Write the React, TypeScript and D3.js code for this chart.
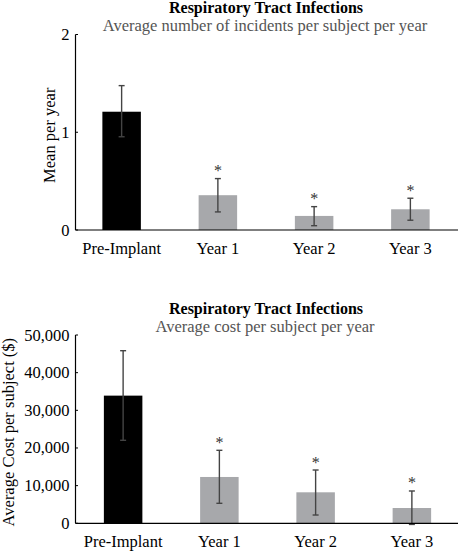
import React from "react";
import * as d3 from "d3";

const categories = ["Pre-Implant", "Year 1", "Year 2", "Year 3"];

const incidentMeans = [1.21, 0.356, 0.144, 0.212];
const incidentLow = [0.954, 0.185, 0.044, 0.1];
const incidentHigh = [1.477, 0.526, 0.239, 0.325];
const incidentTicks = [0, 1, 2];
const incidentStars = [false, true, true, true];

const costMeans = [33900, 12300, 8230, 4060];
const costLow = [22040, 5310, 2200, -300];
const costHigh = [45830, 19380, 14150, 8580];
const costTicks = [0, 10000, 20000, 30000, 40000, 50000];
const costStars = [false, true, true, true];

const FONT = "'Liberation Serif', 'Times New Roman', serif";

type ChartProps = {
  top: number;
  title: string;
  subtitle: string;
  yLabel: string;
  yLabelX: number;
  means: number[];
  low: number[];
  high: number[];
  ticks: number[];
  stars: boolean[];
  yMax: number;
  y0: number;
  y1: number;
  tickFmt: (v: number) => string;
  xOffset: number;
};

function Chart(p: ChartProps) {
  const axisX = 75.5;
  const x = d3
    .scaleBand<string>()
    .domain(categories)
    .range([73.5 + p.xOffset, 458.5 + p.xOffset])
    .paddingInner(0.6)
    .paddingOuter(0.3);
  const y = d3.scaleLinear().domain([0, p.yMax]).range([p.y0, p.y1]);
  const bw = x.bandwidth();
  const cx = (c: string) => (x(c) as number) + bw / 2;
  return (
    <g>
      <text x={266} y={p.top + 13} textAnchor="middle" fontFamily={FONT} fontWeight="bold" fontSize={16} fill="#000">
        {p.title}
      </text>
      <text x={265} y={p.top + 31} textAnchor="middle" fontFamily={FONT} fontSize={16.5} fill="#555">
        {p.subtitle}
      </text>
      {categories.map((c, i) => (
        <rect
          key={c}
          x={x(c)}
          y={y(p.means[i])}
          width={bw}
          height={y(0) - y(p.means[i])}
          fill={i === 0 ? "#000" : "#a7a8ab"}
        />
      ))}
      {categories.map((c, i) => (
        <g key={"e" + c} stroke="#444" strokeWidth={1.4}>
          <line x1={cx(c)} x2={cx(c)} y1={y(p.low[i])} y2={y(p.high[i])} />
          <line x1={cx(c) - 3} x2={cx(c) + 3} y1={y(p.high[i])} y2={y(p.high[i])} />
          <line x1={cx(c) - 3} x2={cx(c) + 3} y1={y(p.low[i])} y2={y(p.low[i])} />
        </g>
      ))}
      {categories.map((c, i) =>
        p.stars[i] ? (
          <text key={"s" + c} x={cx(c)} y={y(p.high[i]) - 2.5} textAnchor="middle" fontFamily={FONT} fontSize={16} fill="#333">
            *
          </text>
        ) : null
      )}
      <line x1={axisX} x2={axisX} y1={y(p.yMax)} y2={y(0)} stroke="#000" strokeWidth={1.2} />
      <line x1={axisX} x2={458} y1={y(0)} y2={y(0)} stroke="#000" strokeWidth={1.2} />
      {p.ticks.map((t) => (
        <g key={"t" + t}>
          <line x1={axisX} x2={axisX + 2.5} y1={y(t)} y2={y(t)} stroke="#000" strokeWidth={1} />
          <text x={69.5} y={y(t) + 5.5} textAnchor="end" fontFamily={FONT} fontSize={16.5} fill="#000">
            {p.tickFmt(t)}
          </text>
        </g>
      ))}
      {categories.map((c) => (
        <text key={"l" + c} x={cx(c)} y={y(0) + 23.5} textAnchor="middle" fontFamily={FONT} fontSize={16.5} fill="#000">
          {c}
        </text>
      ))}
      <text
        transform={`translate(${p.yLabelX},${(y(0) + y(p.yMax)) / 2 + 3}) rotate(-90)`}
        textAnchor="middle"
        fontFamily={FONT}
        fontSize={16.5}
        fill="#000"
      >
        {p.yLabel}
      </text>
    </g>
  );
}

export default function App() {
  const comma = d3.format(",");
  return (
    <svg width={459} height={552} style={{ position: "absolute", left: 0, top: 0, background: "#fff" }}>
      <rect width={459} height={552} fill="#fff" />
      <Chart
        top={0}
        title="Respiratory Tract Infections"
        subtitle="Average number of incidents per subject per year"
        yLabel="Mean per year"
        yLabelX={55}
        means={incidentMeans}
        low={incidentLow}
        high={incidentHigh}
        ticks={incidentTicks}
        stars={incidentStars}
        yMax={2}
        y0={230}
        y1={34.5}
        tickFmt={(v) => String(v)}
        xOffset={0}
      />
      <Chart
        top={301}
        title="Respiratory Tract Infections"
        subtitle="Average cost per subject per year"
        yLabel="Average Cost per subject ($)"
        yLabelX={14}
        means={costMeans}
        low={costLow}
        high={costHigh}
        ticks={costTicks}
        stars={costStars}
        yMax={50000}
        y0={523.3}
        y1={335}
        tickFmt={(v) => comma(v)}
        xOffset={1.5}
      />
    </svg>
  );
}
